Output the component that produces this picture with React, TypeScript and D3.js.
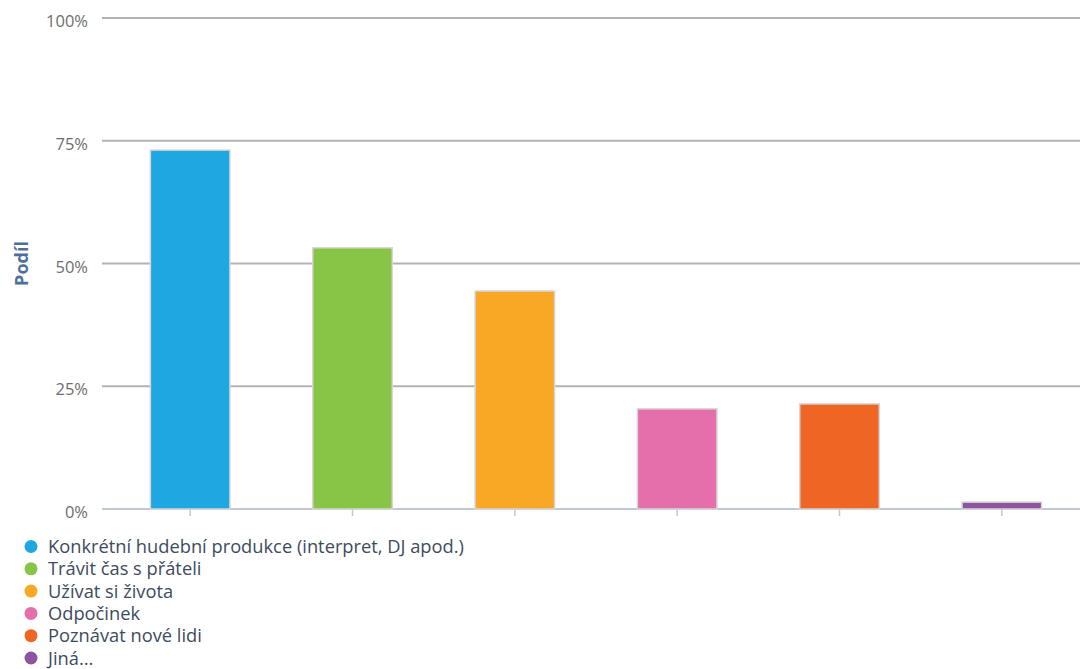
import React from "react";
import * as d3 from "d3";

const categories = [
  "Konkrétní hudební produkce (interpret, DJ apod.)",
  "Trávit čas s přáteli",
  "Užívat si života",
  "Odpočinek",
  "Poznávat nové lidi",
  "Jiná...",
];
const values = [73.1, 53.2, 44.4, 20.4, 21.4, 1.4];
const colors = ["#1ea7e0", "#88c446", "#f9a825", "#e56fab", "#ef6524", "#8e53a1"];
const yTicks = [0, 25, 50, 75, 100];

export default function App() {
  const W = 1080, H = 669;
  const x = d3.scaleBand<string>().domain(categories).range([109, 1083]).paddingInner(0.51).paddingOuter(0.255);
  const y = d3.scaleLinear().domain([0, 100]).range([509, 18]);
  const font = "'Open Sans', 'DejaVu Sans', sans-serif";
  return (
    <svg width={W} height={H} style={{ position: "absolute", left: 0, top: 0, display: "block" }}>
      <rect width={W} height={H} fill="#fff" />
      {yTicks.map((t) => (
        <g key={t}>
          <line x1={102} x2={W} y1={y(t)} y2={y(t)} stroke={t === 0 ? "#c3c9d0" : "#b3b3b3"} strokeWidth={2} />
          <text x={88} y={y(t) + 9} textAnchor="end" fontFamily={font} fontSize={16.5} fill="#6e6e6e">
            {t}%
          </text>
        </g>
      ))}
      <text transform={`translate(28,${y(50)}) rotate(-90)`} textAnchor="middle" fontFamily={font} fontSize={18} fontWeight="bold" fill="#4e6f9c">
        Podíl
      </text>
      {categories.map((c) => (
        <line key={c} x1={x(c)! + x.bandwidth() / 2} x2={x(c)! + x.bandwidth() / 2} y1={510} y2={516} stroke="#c3c9d0" strokeWidth={1.5} />
      ))}
      {categories.map((c, i) => (
        <rect key={c} x={x(c)!} y={y(values[i])} width={x.bandwidth()} height={y(0) - y(values[i])} fill={colors[i]} stroke="#d6d6d6" strokeWidth={1.5} />
      ))}
      {categories.map((c, i) => (
        <g key={c} transform={`translate(0,${546.5 + i * 22.3})`}>
          <circle cx={31} cy={0} r={6.5} fill={colors[i]} />
          <text x={48} y={6.5} fontFamily={font} fontSize={18.3} fill="#3e4b5e">
            {c}
          </text>
        </g>
      ))}
    </svg>
  );
}
